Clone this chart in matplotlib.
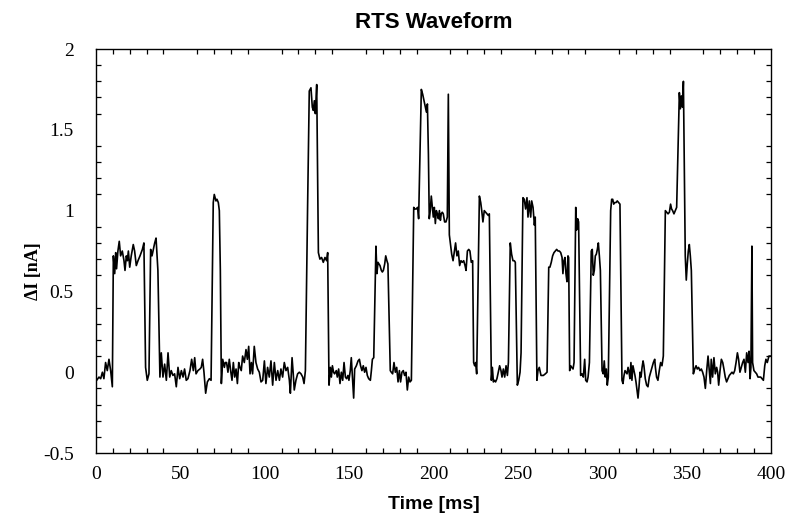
import matplotlib
matplotlib.use("Agg")
import matplotlib.pyplot as plt
from matplotlib.ticker import MultipleLocator

# --- data (time in ms, current step in nA) ---
t_a = [0.4, 1.8, 2.8, 3.8, 4.7, 5.7, 6.7, 7.7, 8.7, 9.7,
       10.3, 11.1, 11.7, 12.2, 13.0, 13.8, 14.6, 15.6, 16.6, 17.2,
       18.0, 18.6, 19.2, 20.0, 20.9, 22.1, 22.9, 23.9, 24.9, 26.1,
       27.5, 28.4, 29.4, 30.4, 31.4, 32.4, 33.2, 34.0, 34.8, 35.6,
       36.7, 37.9, 38.7, 39.7, 40.7, 41.7, 42.7, 43.7, 44.6, 45.6,
       46.6, 47.6, 48.6, 49.6, 50.6, 51.6, 52.5, 53.5, 54.5, 55.7,
       56.7, 57.7, 58.5, 59.3, 60.4, 61.6, 62.4, 63.2, 64.0, 65.0,
       66.0, 67.2, 68.2]
i_a = [-0.05, -0.03, -0.04, 0.00, -0.04, 0.06, 0.01, 0.08, 0.01, -0.09,
       0.72, 0.61, 0.74, 0.64, 0.75, 0.81, 0.72, 0.75, 0.69, 0.63,
       0.72, 0.69, 0.75, 0.65, 0.72, 0.79, 0.75, 0.66, 0.69, 0.72,
       0.76, 0.80, 0.03, -0.05, -0.01, 0.76, 0.72, 0.76, 0.80, 0.83,
       0.63, -0.03, 0.12, -0.03, 0.05, -0.05, 0.12, -0.03, 0.01, -0.02,
       -0.01, -0.09, 0.03, -0.04, 0.01, -0.03, 0.02, -0.05, -0.04, 0.01,
       0.08, 0.01, 0.09, -0.01, 0.01, 0.02, 0.03, 0.08, 0.00, -0.13,
       -0.06, -0.04, -0.05]

t_b = [69.5, 70.1, 71.1, 71.7, 72.5, 73.1, 73.7, 74.3, 75.1, 76.1,
       76.6, 77.4, 78.2, 79.0, 79.8, 80.6, 81.4, 82.2, 83.0, 83.8,
       84.6, 85.3, 86.1, 86.9, 87.9, 88.9, 89.7, 90.5, 91.3, 92.1,
       92.8, 93.8, 94.8, 95.8, 96.8, 97.8, 98.8, 99.8, 100.7, 101.7,
       102.7, 103.7, 104.7, 105.7, 106.7, 107.7, 108.7, 109.6, 110.6, 111.6,
       112.6, 113.6, 114.6, 115.2, 116.2, 116.9, 117.5, 118.5, 119.5, 120.5,
       121.5, 122.5, 123.3, 124.1]
i_b = [1.05, 1.10, 1.06, 1.07, 1.05, 1.00, 0.63, -0.07, 0.08, 0.03,
       0.06, 0.06, 0.00, 0.08, 0.01, -0.05, 0.06, -0.03, 0.02, -0.07,
       0.06, 0.03, 0.01, 0.10, 0.06, 0.14, 0.08, 0.16, -0.01, 0.06,
       -0.01, 0.16, 0.06, 0.02, 0.00, -0.06, -0.05, 0.07, -0.07, 0.03,
       -0.03, 0.07, -0.08, 0.06, -0.05, 0.01, -0.05, 0.02, -0.03, 0.06,
       0.01, 0.03, -0.05, -0.13, 0.09, -0.01, -0.11, -0.05, -0.01, 0.00,
       -0.01, -0.03, -0.07, 0.01]

t_c = [125.4, 126.4, 127.4, 128.2, 128.8, 129.4, 130.0, 130.8, 131.8, 132.7,
       133.7, 134.7, 135.7, 136.7, 137.3, 138.1, 138.9, 139.5, 140.1, 140.8,
       141.4, 142.4, 143.0, 143.8, 144.6, 145.4, 146.2, 147.0, 147.8, 148.5,
       149.3, 149.9, 150.7, 151.3, 152.1, 152.7, 153.3, 154.3, 155.3, 156.1,
       156.8, 157.6, 158.4, 159.2, 160.0, 160.8, 161.6, 162.6, 163.2, 163.8,
       164.6, 165.9, 166.5, 167.1, 167.7, 168.3, 169.1, 169.7, 170.3, 171.1,
       171.7, 172.4, 173.0, 174.4, 175.0, 175.8, 176.6, 177.4, 178.2, 179.0,
       179.8, 180.5, 181.3, 182.1, 182.9, 183.7, 184.5, 185.3, 186.1, 186.9,
       188.3, 189.0, 189.8, 190.6, 191.2, 192.8, 193.6, 194.4, 195.2, 195.8,
       196.4, 197.0, 197.5, 198.1, 198.7]
i_c = [1.02, 1.74, 1.76, 1.64, 1.62, 1.68, 1.60, 1.78, 0.74, 0.70,
       0.71, 0.68, 0.71, 0.69, 0.74, -0.08, 0.03, -0.03, 0.04, 0.00,
       -0.01, 0.01, -0.03, 0.02, -0.07, 0.00, -0.05, 0.06, -0.03, -0.04,
       -0.02, -0.05, 0.01, 0.09, -0.05, -0.16, 0.02, 0.04, 0.07, 0.08,
       0.04, 0.01, 0.04, 0.00, 0.03, -0.02, -0.04, -0.05, 0.01, 0.08,
       0.09, 0.78, 0.61, 0.68, 0.67, 0.66, 0.63, 0.62, 0.63, 0.67,
       0.72, 0.69, 0.67, 0.01, 0.00, -0.01, 0.06, 0.00, 0.03, -0.06,
       0.01, -0.06, 0.00, 0.01, -0.02, 0.00, -0.11, -0.03, -0.06, -0.05,
       1.02, 1.01, 1.01, 1.02, 0.95, 1.75, 1.72, 1.68, 1.64, 1.61,
       1.66, 1.35, 0.95, 1.00, 1.09]

t_d = [199.9, 200.5, 201.1, 201.7, 202.3, 202.9, 203.5, 204.1, 204.6, 205.2,
       205.8, 206.6, 207.4, 208.2, 208.8, 209.4, 210.2, 210.8, 211.6, 212.4,
       213.1, 213.9, 214.7, 215.5, 216.3, 217.1, 217.9, 218.7, 219.3, 220.1,
       220.9, 221.6, 222.4, 223.2, 223.8, 224.4, 225.0, 225.6, 227.2, 228.0,
       228.6, 229.3, 230.1, 230.9, 231.7, 232.5, 233.1, 234.3, 234.9, 235.5,
       236.1, 236.8, 237.6, 238.4, 239.2, 240.0, 240.6, 241.4, 242.2, 243.0,
       243.8, 244.4, 245.5, 246.3, 247.1, 247.9, 248.5, 249.7, 250.5, 251.3,
       251.9, 253.0, 253.8, 254.6, 255.4, 256.0, 256.8, 257.6, 258.2, 259.0,
       259.8, 260.3, 261.3, 261.9, 262.7, 263.7]
i_d = [0.96, 1.02, 0.92, 1.00, 0.98, 0.95, 1.00, 0.94, 0.98, 0.99,
       0.98, 0.93, 0.93, 0.96, 1.72, 0.85, 0.78, 0.73, 0.69, 0.75,
       0.80, 0.72, 0.75, 0.66, 0.69, 0.68, 0.69, 0.66, 0.63, 0.75,
       0.76, 0.75, 0.68, 0.69, 0.06, 0.04, 0.06, -0.01, 1.09, 1.05,
       1.00, 0.93, 1.00, 0.99, 0.98, 0.97, 0.98, -0.05, 0.03, -0.06,
       -0.05, -0.06, -0.04, 0.00, 0.04, 0.01, -0.03, 0.02, -0.03, 0.04,
       -0.02, 0.06, 0.80, 0.73, 0.69, 0.69, 0.68, -0.08, -0.05, 0.00,
       0.12, 1.08, 1.07, 1.01, 1.08, 0.96, 1.06, 0.96, 1.06, 1.02,
       0.91, 0.96, -0.05, 0.01, 0.03, -0.02]

t_e = [265.1, 266.3, 267.3, 268.3, 269.0, 269.8, 270.6, 271.4, 272.2, 273.0,
       273.8, 274.6, 275.4, 276.2, 276.7, 277.3, 277.9, 278.5, 279.1, 279.7,
       280.1, 280.7, 281.3, 281.9, 282.7, 283.3, 284.3, 284.8, 285.4, 286.0,
       287.2, 288.0, 288.8, 289.6, 290.2, 291.0, 291.6, 292.4, 293.5, 294.1,
       294.7, 295.3, 295.9, 296.5, 297.1, 297.7, 298.3, 298.9, 299.9, 300.6,
       301.2, 301.8, 302.4, 303.0, 303.6, 305.0, 305.6, 306.2, 306.8, 307.4,
       308.2, 308.9, 309.7, 310.5, 311.7, 312.3, 312.9, 313.5, 314.1, 314.7,
       315.3, 315.9, 316.4, 317.0, 317.6, 318.2, 318.8, 319.4, 320.0, 320.6,
       321.2, 321.8, 322.4, 323.0, 323.6, 324.2, 324.7, 325.5, 326.3, 327.1,
       327.9, 328.7, 329.5, 330.3, 331.1]
i_e = [-0.02, -0.01, 0.00, 0.65, 0.65, 0.68, 0.72, 0.74, 0.75, 0.76,
       0.75, 0.75, 0.74, 0.71, 0.61, 0.69, 0.71, 0.61, 0.56, 0.72,
       0.71, 0.01, 0.04, 0.03, 0.02, 0.06, 1.02, 0.88, 0.95, 0.93,
       -0.02, -0.01, -0.03, 0.08, -0.05, -0.06, -0.03, 0.06, 0.75, 0.76,
       0.60, 0.63, 0.72, 0.73, 0.76, 0.80, 0.72, 0.63, 0.01, -0.01,
       0.07, -0.03, 0.02, -0.08, -0.03, 1.00, 1.07, 1.07, 1.04, 1.05,
       1.05, 1.06, 1.05, 1.04, -0.05, -0.07, -0.02, 0.01, 0.00, -0.01,
       0.03, 0.00, -0.04, 0.06, -0.05, 0.04, 0.01, -0.02, -0.06, -0.11,
       -0.16, -0.09, 0.00, -0.03, 0.03, 0.07, 0.04, -0.04, -0.08, -0.09,
       -0.03, 0.00, 0.03, 0.06, 0.08]

t_f = [331.5, 332.2, 333.0, 333.8, 334.6, 335.4, 336.2, 337.4, 338.2, 339.0,
       339.8, 340.5, 341.1, 341.7, 342.5, 343.3, 344.1, 345.7, 346.3, 346.9,
       347.5, 348.1, 349.2, 349.8, 350.4, 351.0, 351.6, 352.2, 352.8, 354.0,
       354.8, 355.6, 356.3, 357.1, 357.9, 358.7, 359.5, 360.3, 361.1, 361.9,
       362.7, 363.5, 364.1, 364.6, 365.4, 366.2, 367.0, 367.8, 368.4, 369.0,
       369.8, 370.6, 371.4, 372.1, 372.9, 373.7, 374.5, 375.3, 376.1, 376.9,
       377.7, 378.5, 379.3, 380.1, 380.8, 381.6, 382.4, 383.2, 384.0, 384.8,
       385.6, 386.4, 387.0, 387.6, 388.1, 388.7, 389.1, 389.9, 390.7, 391.5,
       392.3, 393.1, 393.9, 394.7, 395.5, 396.3, 397.0, 397.8, 398.8, 400.0]
i_f = [0.03, -0.03, -0.05, 0.01, 0.06, 0.04, 0.10, 1.00, 0.99, 0.98,
       0.99, 1.04, 1.01, 1.00, 0.98, 1.00, 1.02, 1.73, 1.63, 1.71,
       1.64, 1.80, 0.72, 0.57, 0.67, 0.75, 0.79, 0.72, 0.63, -0.01,
       0.02, 0.04, 0.02, 0.03, 0.01, 0.02, 0.00, -0.03, -0.10, 0.01,
       0.10, 0.00, -0.07, 0.08, -0.03, 0.09, -0.01, 0.03, 0.00, -0.08,
       0.01, 0.08, 0.06, 0.02, -0.03, -0.06, -0.04, -0.02, -0.01, 0.00,
       -0.01, 0.01, 0.06, 0.12, 0.08, 0.00, 0.03, 0.06, 0.08, 0.00,
       0.12, 0.06, 0.13, -0.04, 0.03, 0.78, 0.06, 0.01, 0.00, -0.01,
       -0.03, -0.03, -0.03, -0.04, -0.05, 0.04, 0.08, 0.06, 0.10, 0.10]

x_ticks = [0, 50, 100, 150, 200, 250, 300, 350, 400]
y_ticks = [-0.5, 0, 0.5, 1, 1.5, 2]
y_tick_labels = ["-0.5", "0", "0.5", "1", "1.5", "2"]


def main():
    time_ms = t_a + t_b + t_c + t_d + t_e + t_f
    delta_i = i_a + i_b + i_c + i_d + i_e + i_f

    fig = plt.figure(figsize=(7.86, 5.23), dpi=100)
    ax = fig.add_axes([0.1221, 0.1338, 0.8588, 0.7725])

    ax.plot(time_ms, delta_i, color="black", linewidth=1.2)

    ax.set_xlim(0, 400)
    ax.set_ylim(-0.5, 2)
    ax.set_xticks(x_ticks)
    ax.set_yticks(y_ticks)
    ax.set_yticklabels(y_tick_labels)
    ax.xaxis.set_minor_locator(MultipleLocator(10))
    ax.yaxis.set_minor_locator(MultipleLocator(0.1))

    # only the minor ticks are drawn, pointing inwards on every side
    ax.tick_params(which="major", length=0, labelsize=14, pad=9,
                   top=True, right=True)
    ax.tick_params(axis="y", which="major", pad=16)
    ax.tick_params(which="minor", direction="in", length=3.8, width=0.9,
                   top=True, right=True)
    for lbl in ax.get_xticklabels() + ax.get_yticklabels():
        lbl.set_fontfamily("Liberation Serif")

    for spine in ax.spines.values():
        spine.set_linewidth(1.0)

    ax.set_title("RTS Waveform", fontsize=16, fontweight="bold",
                 family="Liberation Sans", pad=15)
    ax.set_xlabel("Time [ms]", fontsize=14, fontweight="bold",
                  family="Liberation Sans", labelpad=10)
    ax.set_ylabel("ΔI [nA]", fontsize=13, fontweight="bold",
                  family="Liberation Serif", labelpad=2)
    ax.yaxis.set_label_coords(-0.08, 0.45)

    fig.savefig("out.png", dpi=100)


if __name__ == "__main__":
    main()
